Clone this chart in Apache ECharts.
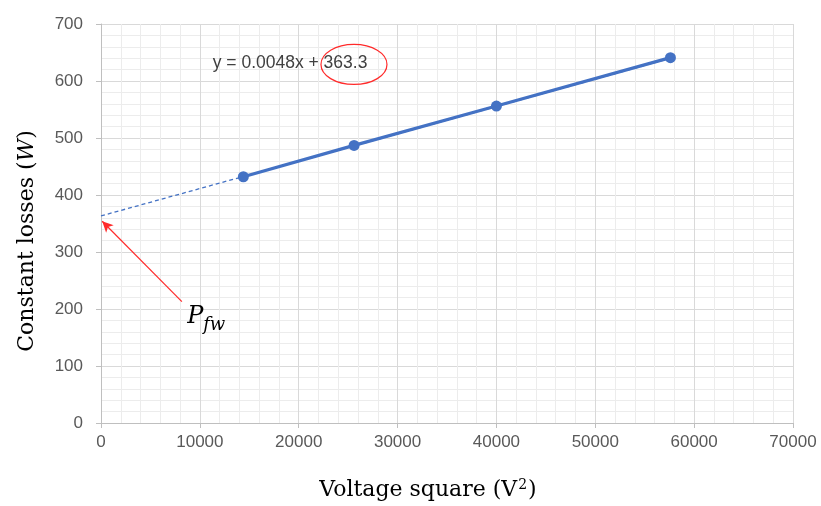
<!DOCTYPE html>
<html>
<head>
<meta charset="utf-8">
<script src="https://cdn.jsdelivr.net/npm/echarts@6/dist/echarts.min.js"></script>
<style>
  html, body { margin: 0; padding: 0; background: #ffffff; }
  #chart { width: 821px; height: 506px; }
</style>
</head>
<body>
<div id="chart"></div>
<script>
// Measured points: squared terminal voltage vs. constant (no-load) losses
const voltageSquare = [14400, 25600, 40000, 57600];
const constantLoss = [432, 487, 556, 641];

// Linear fit y = 0.0048x + 363.3, drawn back to x = 0
const fitSlope = 0.0048;
const fitIntercept = 363.3;
const fitX = [0, 57600];
const fitY = [363.3, 639.8];

// Axis ranges
const xRange = [0, 70000, 10000];
const yRange = [0, 700, 100];

const BLUE = '#4472c4';
const RED = '#ff2a2a';
const SANS = '"Liberation Sans", Arial, sans-serif';
const SERIF = '"DejaVu Serif", "Liberation Serif", serif';

const chart = echarts.init(document.getElementById('chart'), null, { renderer: 'canvas' });

function axisCommon() {
  return {
    type: 'value',
    axisLine: { show: true, lineStyle: { color: '#bfbfbf', width: 1 } },
    axisTick: { show: true, length: 5, lineStyle: { color: '#bfbfbf' } },
    splitLine: { show: true, lineStyle: { color: '#d9d9d9', width: 1 } },
    minorTick: { show: false, splitNumber: 5 },
    minorSplitLine: { show: true, lineStyle: { color: '#ececec', width: 1 } },
    axisLabel: { color: '#595959', fontFamily: SANS, fontSize: 17, formatter: (v) => String(v) }
  };
}

const xAxis = axisCommon();
Object.assign(xAxis, { min: xRange[0], max: xRange[1], interval: xRange[2] });
xAxis.axisLabel.margin = 11;

const yAxis = axisCommon();
Object.assign(yAxis, { min: yRange[0], max: yRange[1], interval: yRange[2] });
yAxis.axisLabel.margin = 18;

chart.setOption({
  animation: false,
  backgroundColor: '#ffffff',
  grid: { left: 101, right: 28, top: 24, bottom: 83, containLabel: false },
  xAxis: xAxis,
  yAxis: yAxis,
  series: [
    {
      name: 'Constant losses',
      type: 'line',
      data: voltageSquare.map((v, i) => [v, constantLoss[i]]),
      symbol: 'circle',
      symbolSize: 11,
      lineStyle: { color: BLUE, width: 3.2 },
      itemStyle: { color: BLUE },
      z: 2
    },
    {
      name: 'Linear fit',
      type: 'line',
      data: fitX.map((v, i) => [v, fitY[i]]),
      symbol: 'none',
      lineStyle: { color: BLUE, width: 1.3, type: [4, 3] },
      z: 3,
      markLine: {
        silent: true,
        symbol: ['none', 'arrow'],
        symbolSize: [8, 11],
        label: { show: false },
        lineStyle: { color: RED, width: 1.2, type: 'solid' },
        data: [[{ coord: [8180, 213] }, { coord: [120, 354] }]]
      }
    }
  ]
});

// Annotations placed in data space, converted to pixels
function px(x, y) {
  return chart.convertToPixel({ xAxisIndex: 0, yAxisIndex: 0 }, [x, y]);
}

const eqPos = px(11300, 631);
const ringPos = px(25590, 629);
const pPos = px(8720, 186);

chart.setOption({
  graphic: [
    {
      type: 'text',
      x: eqPos[0], y: eqPos[1],
      style: {
        text: `y = ${fitSlope}x + ${fitIntercept}`,
        font: `17.5px ${SANS}`,
        fill: '#404040',
        textAlign: 'left',
        textVerticalAlign: 'middle'
      },
      z: 10
    },
    {
      type: 'ellipse',
      shape: { cx: ringPos[0], cy: ringPos[1], rx: 33, ry: 20 },
      style: { fill: 'none', stroke: RED, lineWidth: 1.2 },
      z: 10
    },
    {
      type: 'text',
      x: pPos[0], y: pPos[1],
      style: {
        text: 'P',
        font: `italic 24px ${SERIF}`,
        fill: '#000000',
        textAlign: 'left',
        textVerticalAlign: 'middle'
      },
      z: 10
    },
    {
      type: 'text',
      x: pPos[0] + 16, y: pPos[1] + 8,
      style: {
        text: 'fw',
        font: `italic 18px ${SERIF}`,
        fill: '#000000',
        textAlign: 'left',
        textVerticalAlign: 'middle'
      },
      z: 10
    },
    {
      type: 'text',
      x: 428, y: 490,
      style: {
        text: '{t|Voltage square (V}{s|2}{t|)}',
        rich: {
          t: { font: `22px ${SERIF}`, fill: '#000000', lineHeight: 28 },
          s: { font: `14px ${SERIF}`, fill: '#000000', lineHeight: 28, padding: [0, 1, 10, 1] }
        },
        textAlign: 'center',
        textVerticalAlign: 'middle'
      },
      z: 10
    },
    {
      type: 'text',
      x: 27, y: 241,
      rotation: Math.PI / 2,
      style: {
        text: '{t|Constant losses (}{i|W}{t|)}',
        rich: {
          t: { font: `22px ${SERIF}`, fill: '#000000' },
          i: { font: `italic 22px ${SERIF}`, fill: '#000000' }
        },
        textAlign: 'center',
        textVerticalAlign: 'middle'
      },
      z: 10
    }
  ]
});
</script>
</body>
</html>
